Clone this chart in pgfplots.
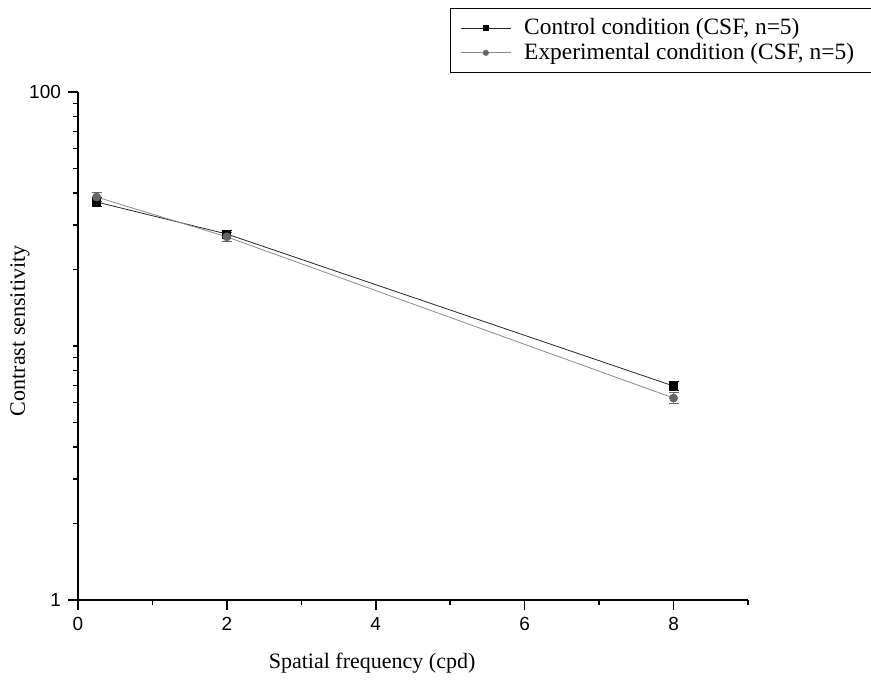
\documentclass[border=0pt]{standalone}
\usepackage{fontspec}
\setmainfont{Liberation Serif}
\newfontfamily\arialfont{Liberation Sans}
\usepackage{pgfplots}
\pgfplotsset{compat=1.18}
\begin{document}
\begin{tikzpicture}
\begin{axis}[
  scale only axis, width=335pt, height=254pt,
  xmin=0, xmax=9, ymode=log, ymin=1, ymax=100,
  axis x line*=bottom, axis y line*=left,
  axis line style={-, line width=1pt},
  xtick={0,2,4,6,8}, minor xtick={1,3,5,7,9},
  ytick={1,10,100},
  yticklabel={\ifdim\tick pt<0.01pt 1\else\ifdim\tick pt>4.55pt 100\fi\fi},
  tick align=outside, major tick length=2.5pt, minor tick length=2.5pt,
  tick style={line width=0.8pt, black},
  /pgf/number format/assume math mode=true,
  ticklabel style={font=\arialfont\fontsize{9.5}{11}\selectfont},
  xticklabel style={yshift=-2.5pt},
  yticklabel style={xshift=-2.5pt},
  xlabel={Spatial frequency (cpd)}, ylabel={Contrast sensitivity},
  label style={font=\fontsize{11}{13}\selectfont},
  xlabel style={at={(rel axis cs:0.439,-0.124)}, anchor=center},
  ylabel style={at={(rel axis cs:-0.0866,0.53)}, anchor=center},
  clip=false,
  legend cell align=left,
  legend image code/.code={
    \draw[#1, mark size=1.3pt, mark repeat=2, mark phase=2]
      plot coordinates {(0pt,0pt) (12.5pt,0pt) (25pt,0pt)};},
  legend style={at={(rel axis cs:0.555,1.1654)}, anchor=north west,
    draw=black, line width=0.6pt, font=\fontsize{11.7}{13}\selectfont,
    row sep=-1.3pt, inner xsep=5pt, inner ysep=3pt,
    /tikz/every odd column/.append style={column sep=4.5pt}},
]
\addplot[black!85, line width=0.4pt, mark=square*, mark size=2pt,
  mark options={fill=black, draw=black},
  error bars/.cd, y dir=both, y explicit,
  error bar style={black, line width=0.4pt},
  error mark options={rotate=90, mark size=2.5pt, black}]
  coordinates {(0.25,36.9) +- (0,1.6) (2,27.6) +- (0,1.0) (8,6.96) +- (0,0.3)};
\addlegendentry{Control condition (CSF, n=5)}
\addplot[black!45, line width=0.4pt, mark=*, mark size=2pt,
  mark options={fill=black!60, draw=black!60},
  error bars/.cd, y dir=both, y explicit,
  error bar style={black!60, line width=0.4pt},
  error mark options={rotate=90, mark size=2.5pt, black!60}]
  coordinates {(0.25,38.6) +- (0,1.6) (2,26.9) +- (0,1.0) (8,6.24) +- (0,0.3)};
\addlegendentry{Experimental condition (CSF, n=5)\hspace*{14pt}}
% longer major ticks
\pgfplotsinvokeforeach{0,2,4,6,8}{
  \draw[line width=0.8pt] (axis cs:#1,1) -- ++(0pt,-5pt);}
\draw[line width=0.8pt] (rel axis cs:0,0) -- ++(-5pt,0pt);
\draw[line width=0.8pt] (rel axis cs:0,1) -- ++(-5pt,0pt);
% minor y ticks of the log axis
\pgfplotsinvokeforeach{2,3,4,5,6,7,8,9,20,30,40,50,60,70,80,90}{
  \draw[line width=0.8pt] (axis cs:0,#1) -- ++(-2.5pt,0pt);}
\coordinate (bl) at (rel axis cs:-0.1164,-0.1594);
\coordinate (tr) at (rel axis cs:1.1836,1.1811);
\end{axis}
\pgfresetboundingbox
\useasboundingbox (bl) rectangle (tr);
\end{tikzpicture}
\end{document}
